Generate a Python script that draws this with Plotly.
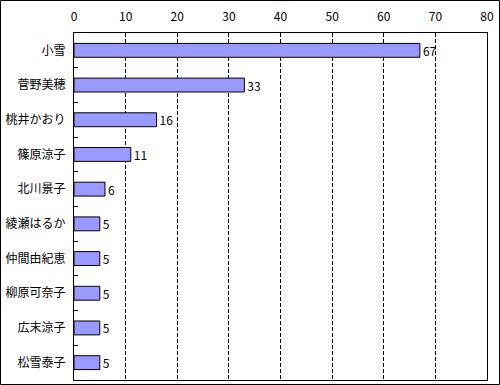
import plotly.graph_objects as go

categories = ["小雪", "菅野美穂", "桃井かおり", "篠原涼子", "北川景子", "綾瀬はるか", "仲間由紀恵", "柳原可奈子", "広末涼子", "松雪泰子"]
values = [67, 33, 16, 11, 6, 5, 5, 5, 5, 5]
x_ticks = [0, 10, 20, 30, 40, 50, 60, 70, 80]

W, H = 500, 385
L, R, T, B = 74, 13, 33, 5
pw, ph = W - L - R, H - T - B

fig = go.Figure(go.Bar(
    y=categories, x=values, orientation="h",
    marker=dict(color="#9999FF", line=dict(color="black", width=1)),
    width=0.4,
    text=[str(v) for v in values], textposition="outside",
    constraintext="none",
    textfont=dict(color="black", size=12, family="Noto Sans CJK JP"),
    cliponaxis=False,
))

fig.update_layout(
    width=W, height=H,
    margin=dict(l=L, r=R, t=T, b=B, pad=0, autoexpand=False),
    paper_bgcolor="white", plot_bgcolor="white",
    font=dict(family="Noto Sans CJK JP", size=12, color="black"),
    showlegend=False,
    xaxis=dict(
        side="top", range=[0, 80], tickvals=x_ticks, ticktext=[str(t) for t in x_ticks],
        showgrid=True, gridcolor="black", gridwidth=1, griddash="4px,2px",
        showline=True, linecolor="black", linewidth=1, mirror=True,
        ticks="", zeroline=False, ticklabelstandoff=6,
        tickfont=dict(size=12),
    ),
    yaxis=dict(
        type="category", categoryorder="array", categoryarray=categories,
        autorange="reversed",
        showgrid=False, showline=True, linecolor="black", linewidth=1, mirror=True,
        ticks="inside", tickson="boundaries", ticklen=4, tickcolor="black",
        ticklabelstandoff=5, tickfont=dict(size=12), zeroline=False,
    ),
    shapes=[dict(
        type="rect", xref="paper", yref="paper",
        x0=(0.5 - L) / pw, x1=(W - 0.5 - L) / pw,
        y0=(H - B - (H - 0.5)) / ph, y1=(H - B - 0.5) / ph,
        line=dict(color="black", width=1), fillcolor="rgba(0,0,0,0)", layer="above",
    )],
)

fig.write_html("out.html", config={"displayModeBar": False},
               post_script="document.body.style.margin='0';document.body.style.padding='0';")
